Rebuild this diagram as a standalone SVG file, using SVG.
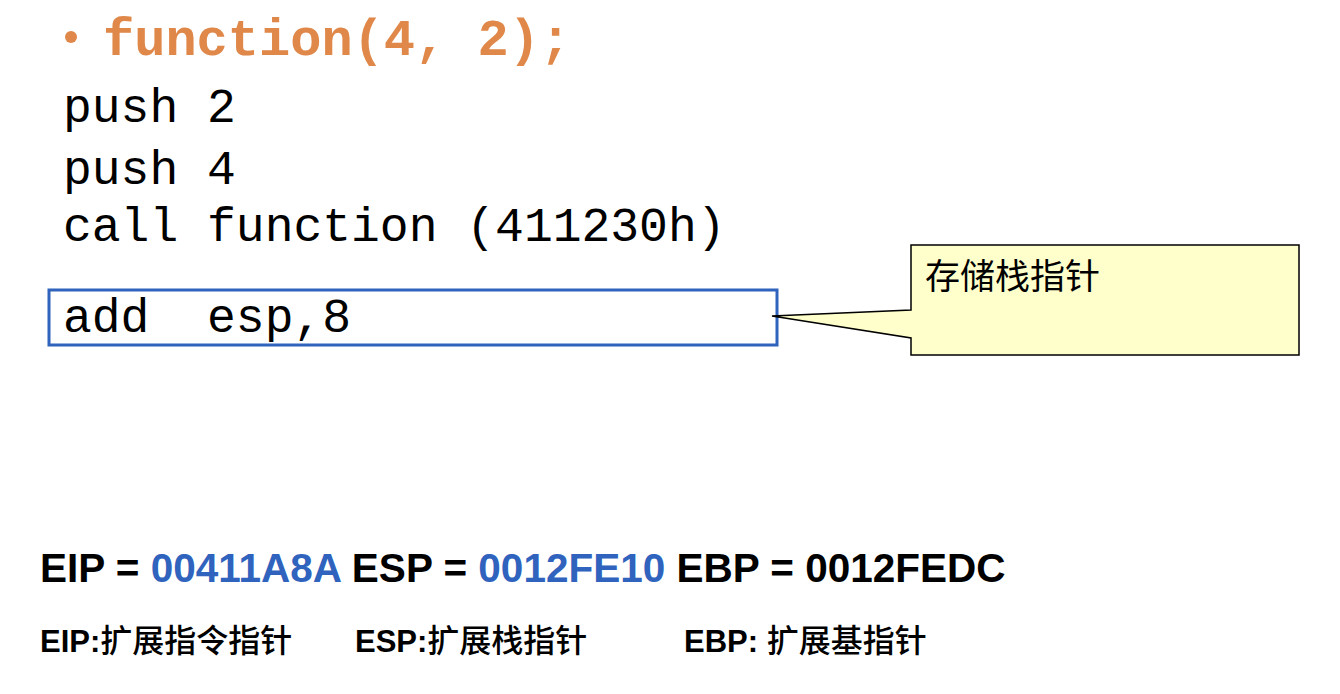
<svg xmlns="http://www.w3.org/2000/svg" width="1340" height="694" viewBox="0 0 1340 694">
<style>
.code{font-family:"Liberation Mono","Courier New",monospace;font-size:48px;fill:#000}
.title{font-family:"Liberation Mono","Courier New",monospace;font-size:52px;font-weight:bold;fill:#E0884A}
.reg{font-family:"Liberation Sans",Arial,sans-serif;font-size:40.5px;font-weight:bold;fill:#000}
.blue{fill:#2F63BD}
.note{font-family:"Liberation Sans",Arial,"Noto Sans CJK SC",sans-serif;font-size:31px;font-weight:bold;fill:#000}
.cn{font-family:"Noto Sans CJK SC",sans-serif;font-size:32px;font-weight:500}
.cjk{font-family:"Noto Sans CJK SC",sans-serif;font-size:35px;fill:#000}
</style>
<rect width="1340" height="694" fill="#fff"/>
<g id="title">
<circle cx="71" cy="37" r="6" fill="#E0884A"/>
<text class="title" x="103" y="55">function(4, 2);</text>
</g>
<g id="code">
<text class="code" x="63" y="122">push 2</text>
<text class="code" x="63" y="184">push 4</text>
<text class="code" x="63" y="241">call function (411230h)</text>
</g>
<g id="addbox">
<rect x="49" y="290" width="728" height="55" fill="#fff" stroke="#2F63BD" stroke-width="3"/>
<text class="code" x="63" y="332" xml:space="preserve">add  esp,8</text>
</g>
<g id="callout">
<path d="M911,245 H1299 V355 H911 V338 L772,316 L911,310 Z" fill="#FFFFCC" stroke="#000" stroke-width="1.5"/>
<text class="cjk" x="925" y="289">存储栈指针</text>
</g>
<g id="registers">
<text class="reg" x="40" y="582">EIP = <tspan class="blue">00411A8A</tspan> ESP = <tspan class="blue">0012FE10</tspan> EBP = 0012FEDC</text>
</g>
<g id="legend">
<text class="note" x="40" y="652">EIP:<tspan class="cn">扩展指令指针</tspan></text>
<text class="note" x="355" y="652">ESP:<tspan class="cn">扩展栈指针</tspan></text>
<text class="note" x="684" y="652">EBP: <tspan class="cn">扩展基指针</tspan></text>
</g>
</svg>
